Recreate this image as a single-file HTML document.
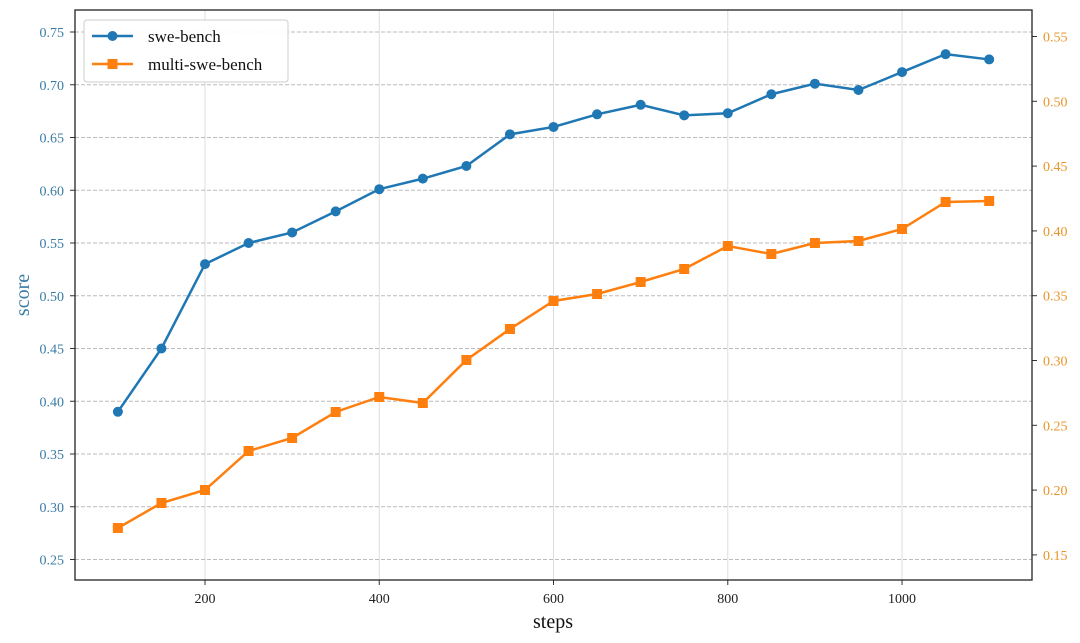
<!DOCTYPE html>
<html><head><meta charset="utf-8"><style>body{margin:0;background:#fff}svg{display:block}</style></head>
<body>
<svg id="c" width="1080" height="643" xmlns="http://www.w3.org/2000/svg" font-family="Liberation Serif, serif"></svg>
<script>
const s=document.getElementById('c');let h='';
const X=v=>205+(v-200)*0.8713;
const L=[0.25,0.3,0.35,0.4,0.45,0.5,0.55,0.6,0.65,0.7,0.75];
const R=[0.15,0.2,0.25,0.3,0.35,0.4,0.45,0.5,0.55];
const LY=v=>32+(0.75-v)*1055, RY=v=>36.5+(0.55-v)*1296;
[200,400,600,800,1000].forEach(v=>{h+=`<line x1="${X(v)}" x2="${X(v)}" y1="10" y2="580" stroke="#ddd" stroke-width="1"/>`;
h+=`<line x1="${X(v)}" x2="${X(v)}" y1="580" y2="585" stroke="#333"/><text x="${X(v)}" y="603" font-size="14" text-anchor="middle" fill="#222">${v}</text>`;});
L.forEach(v=>{const y=LY(v);h+=`<line x1="75" x2="1032" y1="${y}" y2="${y}" stroke="#bbb" stroke-dasharray="4,2"/>`;
h+=`<line x1="70" x2="75" y1="${y}" y2="${y}" stroke="#333"/><text x="64" y="${y+5}" font-size="14" text-anchor="end" fill="#3a7ca5">${v.toFixed(2)}</text>`;});
R.forEach(v=>{const y=RY(v);h+=`<line x1="1032" x2="1037" y1="${y}" y2="${y}" stroke="#333"/><text x="1043" y="${y+5}" font-size="14" fill="#e8962a">${v.toFixed(2)}</text>`;});
const xs=[];for(let i=100;i<=1100;i+=50)xs.push(i);
const sw=[.39,.45,.53,.55,.56,.58,.601,.611,.623,.653,.66,.672,.681,.671,.673,.691,.701,.695,.712,.729,.724];
const mp=[528,503,490,451,438,412,397,403,360,329,301,294,282,269,246,254,243,241,229,202,201];
h+=`<polyline fill="none" stroke="#ff7f0e" stroke-width="2.5" points="${xs.map((x,i)=>X(x)+','+mp[i]).join(' ')}"/>`;
xs.forEach((x,i)=>h+=`<rect x="${X(x)-5}" y="${mp[i]-5}" width="10" height="10" fill="#ff7f0e"/>`);
h+=`<polyline fill="none" stroke="#1f77b4" stroke-width="2.5" points="${xs.map((x,i)=>X(x)+','+LY(sw[i])).join(' ')}"/>`;
xs.forEach((x,i)=>h+=`<circle cx="${X(x)}" cy="${LY(sw[i])}" r="5" fill="#1f77b4"/>`);
h+=`<rect x="75" y="10" width="957" height="570" fill="none" stroke="#222" stroke-width="1.3"/>`;
h+=`<rect x="84" y="20" width="204" height="62" rx="3" fill="#fff" fill-opacity="0.9" stroke="#ccc"/>`;
h+=`<line x1="92" x2="133" y1="36" y2="36" stroke="#1f77b4" stroke-width="2.5"/><circle cx="112.5" cy="36" r="5" fill="#1f77b4"/><text x="148" y="42" font-size="17" fill="#111">swe-bench</text>`;
h+=`<line x1="92" x2="133" y1="64" y2="64" stroke="#ff7f0e" stroke-width="2.5"/><rect x="107.5" y="59" width="10" height="10" fill="#ff7f0e"/><text x="148" y="70" font-size="17" fill="#111">multi-swe-bench</text>`;
h+=`<text x="553" y="628" font-size="20" text-anchor="middle" fill="#111">steps</text>`;
h+=`<text transform="translate(29,295) rotate(-90)" font-size="20" text-anchor="middle" fill="#3a7ca5">score</text>`;
s.innerHTML=h;
</script>
</body></html>
